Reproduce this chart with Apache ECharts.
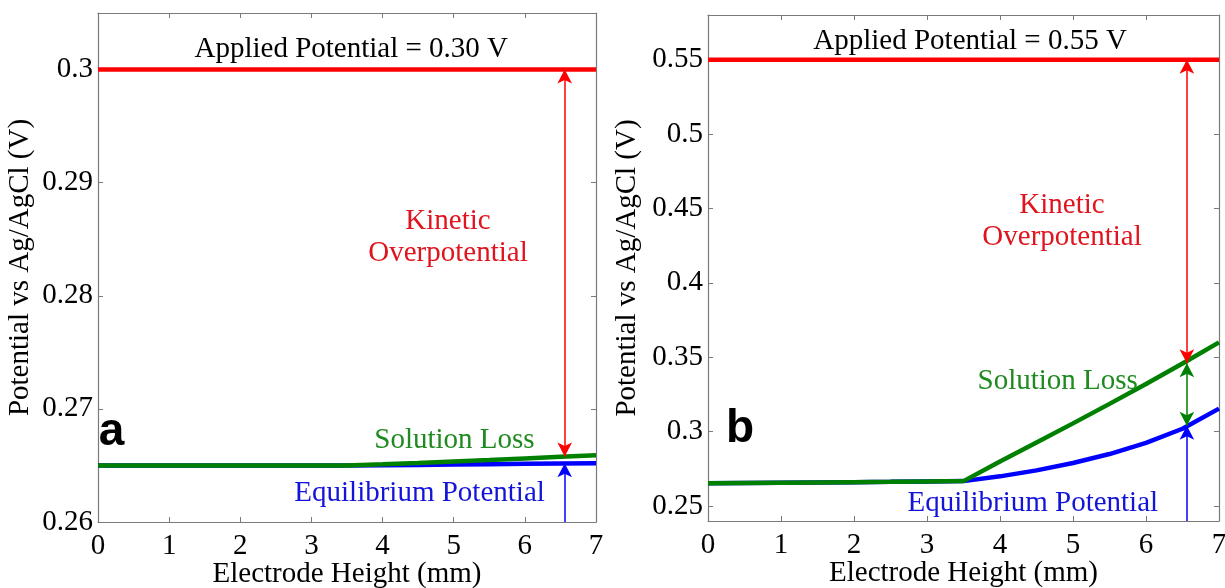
<!DOCTYPE html>
<html><head><meta charset="utf-8">
<script src="https://cdn.jsdelivr.net/npm/echarts@6/dist/echarts.min.js"></script>
<style>html,body{margin:0;padding:0;background:#fff}#c{width:1225px;height:588px}</style>
</head><body><div id="c"></div>
<script>
// ---------- data ----------
const heights = [0, 0.5, 1, 1.5, 2, 2.5, 3, 3.5, 4, 4.5, 5, 5.5, 6, 6.5, 7];
const appliedA = 0.30;
const solutionA = [0.2650, 0.2650, 0.2650, 0.2650, 0.2650, 0.2650, 0.2650, 0.2650, 0.26510, 0.26522, 0.26535, 0.26548, 0.26562, 0.26576, 0.26590];
const equilibriumA = [0.2650, 0.2650, 0.2650, 0.2650, 0.2650, 0.2650, 0.2650, 0.2650, 0.26502, 0.26505, 0.26508, 0.26511, 0.26514, 0.26517, 0.26520];
const appliedB = 0.55;
const solutionB = [0.2653, 0.2655, 0.2657, 0.2659, 0.2661, 0.2663, 0.2666, 0.2668, 0.2800, 0.2928, 0.3056, 0.3187, 0.3320, 0.3458, 0.3600];
const equilibriumB = [0.2653, 0.2655, 0.2657, 0.2659, 0.2661, 0.2663, 0.2666, 0.2668, 0.2700, 0.2740, 0.2790, 0.2850, 0.2925, 0.3020, 0.3155];
const xTicks = [0, 1, 2, 3, 4, 5, 6, 7];
const yTicksA = [0.26, 0.27, 0.28, 0.29, 0.30];
const yTickLabelsA = ['0.26', '0.27', '0.28', '0.29', '0.3'];
const yTicksB = [0.25, 0.30, 0.35, 0.40, 0.45, 0.50, 0.55];
const yTickLabelsB = ['0.25', '0.3', '0.35', '0.4', '0.45', '0.5', '0.55'];
const yRangeA = [0.26, 0.305];
const yRangeB = [0.24, 0.58];
const xRange = [0, 7];
const arrowX = 6.56;
// arrow end values: [applied, solution line, equilibrium line, axis bottom]
const arrowLevelsA = [0.30, 0.2658, 0.2652, 0.26];
const arrowLevelsB = [0.55, 0.346, 0.304, 0.24];
// ---------- style ----------
const SERIF = 'Liberation Serif, Times New Roman, serif';
const RED = '#ff0000', GREEN = '#008000', BLUE = '#0000ff';
const TXT_RED = '#e0141e', TXT_GREEN = '#1f8a1f', TXT_BLUE = '#1414d8';
const FRAME = '#7a7a7a';
const FS = 29;

const pairs = (xs, ys) => xs.map((x, i) => [x, ys[i]]);
const fmt = (vals, labels) => v => { const i = vals.findIndex(t => Math.abs(t - v) < 1e-9); return i >= 0 ? labels[i] : ''; };

function xAxes(grid) {
  const base = {
    type: 'value', gridIndex: grid, min: xRange[0], max: xRange[1], interval: 1,
    axisLine: { show: true, onZero: false, lineStyle: { color: FRAME, width: 1.2 } },
    axisTick: { show: true, inside: true, length: 5, lineStyle: { color: FRAME } },
    splitLine: { show: false }
  };
  return [
    Object.assign({}, base, {
      position: 'bottom',
      axisLabel: { show: true, margin: 10, color: '#000', fontFamily: SERIF, fontSize: FS, formatter: fmt(xTicks, xTicks.map(String)) },
      name: 'Electrode Height (mm)', nameLocation: 'middle', nameGap: 38, nameMoveOverlap: false,
      nameTextStyle: { fontFamily: SERIF, fontSize: FS, color: '#000' }
    }),
    Object.assign({}, base, { position: 'top', axisLabel: { show: false } })
  ];
}
function yAxes(grid, range, ticks, labels, gap) {
  const base = {
    type: 'value', gridIndex: grid, min: range[0], max: range[1],
    axisLine: { show: true, onZero: false, lineStyle: { color: FRAME, width: 1.2 } },
    axisTick: { show: true, inside: true, length: 5, customValues: ticks, lineStyle: { color: FRAME } },
    splitLine: { show: false }
  };
  return [
    Object.assign({}, base, {
      position: 'left',
      axisLabel: { show: true, margin: 5, customValues: ticks, color: '#000', fontFamily: SERIF, fontSize: FS, formatter: fmt(ticks, labels) },
      name: 'Potential vs Ag/AgCl (V)', nameLocation: 'middle', nameGap: gap, nameRotate: 90, nameMoveOverlap: false,
      nameTextStyle: { fontFamily: SERIF, fontSize: FS, color: '#000' }
    }),
    Object.assign({}, base, { position: 'right', axisLabel: { show: false } })
  ];
}

function arrow(x, y1, y2, color, s1, s2) {
  return [
    { coord: [x, y1], symbol: s1, symbolSize: [11, 14], lineStyle: { color: color, width: 1.5, type: 'solid' } },
    { coord: [x, y2], symbol: s2, symbolSize: [11, 14] }
  ];
}
function note(x, y, text, color) {
  return {
    coord: [x, y], value: 0,
    label: { show: true, position: 'inside', formatter: text, color: color, fontFamily: SERIF, fontSize: FS, lineHeight: 32, align: 'center', verticalAlign: 'middle' }
  };
}
const panelLetter = (x, y, t) => ({
  coord: [x, y], value: 0,
  label: { show: true, position: 'inside', formatter: t, color: '#000', fontFamily: 'Liberation Sans, Arial, sans-serif', fontWeight: 'bold', fontSize: 46 }
});

function panel(idx, applied, sol, eq, lv, notes) {
  const xi = idx * 2, yi = idx * 2;
  return [
    { type: 'line', xAxisIndex: xi, yAxisIndex: yi, data: pairs(heights, eq), showSymbol: false, lineStyle: { color: BLUE, width: 4.5 }, itemStyle: { color: BLUE }, z: 2 },
    { type: 'line', xAxisIndex: xi, yAxisIndex: yi, data: pairs(heights, sol), showSymbol: false, lineStyle: { color: GREEN, width: 4.5 }, itemStyle: { color: GREEN }, z: 3 },
    {
      type: 'line', xAxisIndex: xi, yAxisIndex: yi, data: [[xRange[0], applied], [xRange[1], applied]], showSymbol: false,
      lineStyle: { color: RED, width: 4.5 }, itemStyle: { color: RED }, z: 4,
      markLine: {
        silent: true, animation: false, label: { show: false }, emphasis: { disabled: true }, precision: 6,
        data: [
          arrow(arrowX, lv[0], lv[1], RED, 'arrow', 'arrow'),
          arrow(arrowX, lv[3], lv[2], BLUE, 'none', 'arrow')
        ].concat(idx === 1 ? [arrow(arrowX, lv[1], lv[2], GREEN, 'arrow', 'arrow')] : [])
      },
      markPoint: {
        silent: true, animation: false, symbol: 'rect', symbolSize: 1, itemStyle: { color: 'rgba(0,0,0,0)' },
        data: notes
      }
    }
  ];
}

const chart = echarts.init(document.getElementById('c'), null, { renderer: 'canvas' });
chart.setOption({
  animation: false,
  backgroundColor: '#fff',
  grid: [
    { left: 98, right: 629, top: 13, bottom: 66, containLabel: false, outerBoundsMode: 'none' },
    { left: 708, right: 6, top: 15, bottom: 67, containLabel: false, outerBoundsMode: 'none' }
  ],
  xAxis: xAxes(0).concat(xAxes(1)),
  yAxis: yAxes(0, yRangeA, yTicksA, yTickLabelsA, 63).concat(yAxes(1, yRangeB, yTicksB, yTickLabelsB, 66)),
  series: panel(0, appliedA, solutionA, equilibriumA, arrowLevelsA, [
    note(3.56, 0.3018, 'Applied Potential = 0.30 V', '#000'),
    note(4.92, 0.2852, 'Kinetic\nOverpotential', TXT_RED),
    note(5.01, 0.2672, 'Solution Loss', TXT_GREEN),
    note(4.52, 0.2625, 'Equilibrium Potential', TXT_BLUE),
    panelLetter(0.19, 0.2679, 'a')
  ]).concat(panel(1, appliedB, solutionB, equilibriumB, arrowLevelsB, [
    note(3.59, 0.5625, 'Applied Potential = 0.55 V', '#000'),
    note(4.85, 0.4410, 'Kinetic\nOverpotential', TXT_RED),
    note(4.79, 0.3341, 'Solution Loss', TXT_GREEN),
    note(4.45, 0.2520, 'Equilibrium Potential', TXT_BLUE),
    panelLetter(0.44, 0.3018, 'b')
  ]))
});
</script></body></html>
